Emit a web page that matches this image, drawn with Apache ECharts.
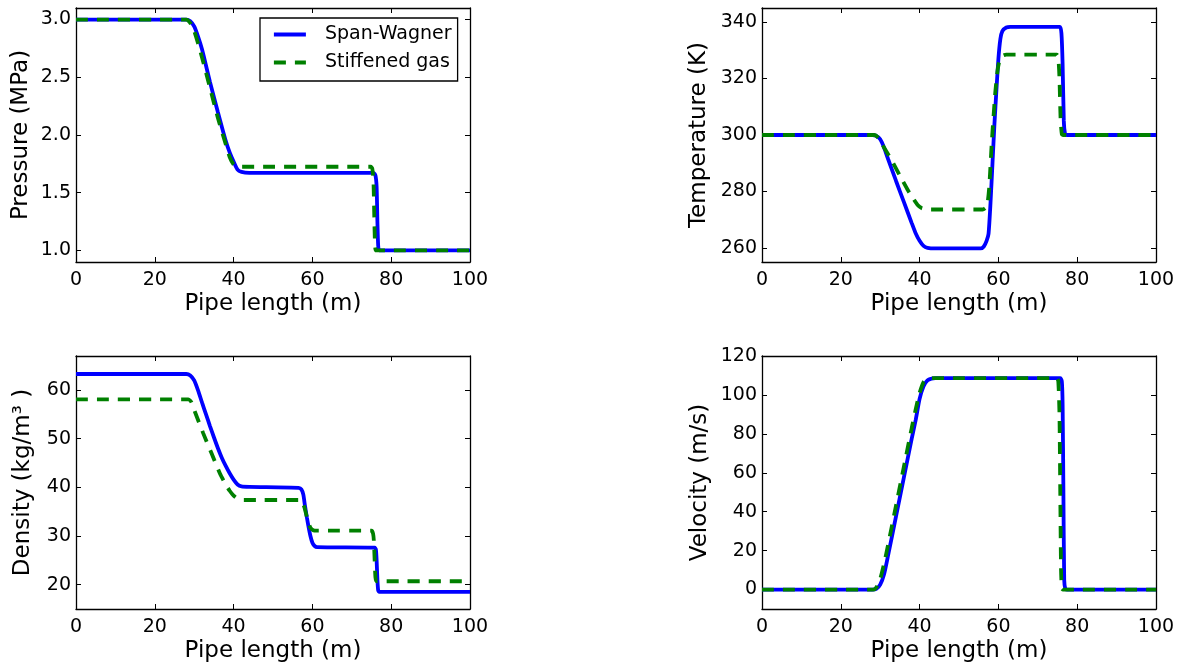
<!DOCTYPE html>
<html>
<head>
<meta charset="utf-8">
<script src="https://cdn.jsdelivr.net/npm/echarts@6/dist/echarts.min.js"></script>
<style>
  html, body { margin: 0; padding: 0; background: #fff; }
  #chart { width: 1183px; height: 671px; }
</style>
</head>
<body>
<div id="chart"></div>
<script>
const seriesNames = ['Span-Wagner', 'Stiffened gas']

const lengthTicks = [0, 20, 40, 60, 80, 100]
const pressureTicks = [1.0, 1.5, 2.0, 2.5, 3.0]
const temperatureTicks = [260, 280, 300, 320, 340]
const densityTicks = [20, 30, 40, 50, 60]
const velocityTicks = [0, 20, 40, 60, 80, 100, 120]

// [pipe length (m), value]
const pressureSW = [[0, 3.0], [28, 3.0], [29, 2.985], [30, 2.94], [31, 2.85], [32, 2.74], [34, 2.46], [36, 2.20], [38, 1.95], [39, 1.85], [40, 1.77], [41, 1.70], [42, 1.68], [44, 1.672], [75.5, 1.672], [76, 1.65], [76.3, 1.55], [76.5, 1.25], [76.7, 1.04], [77, 1.0], [100, 1.0]]
const pressureSG = [[0, 3.0], [28, 3.0], [29, 2.97], [30, 2.90], [31, 2.79], [32, 2.67], [34, 2.41], [36, 2.15], [38, 1.92], [39, 1.81], [40, 1.745], [41, 1.727], [42, 1.725], [74.8, 1.725], [75.2, 1.71], [75.5, 1.6], [75.7, 1.3], [75.9, 1.05], [76.2, 1.0], [100, 1.0]]

const temperatureSW = [[0, 300], [28, 300], [29, 299.7], [30, 298.5], [31, 295.5], [32, 291.5], [34, 283.8], [36, 276.3], [38, 268.8], [39, 265.2], [40, 262.5], [41, 260.7], [42, 260], [44, 259.8], [55.5, 259.8], [56.3, 260.5], [57, 262.5], [57.5, 265], [58, 276], [58.5, 290], [59, 304], [59.5, 316], [60, 327], [60.5, 334], [61, 336.8], [62, 338.1], [63, 338.3], [75.6, 338.3], [76, 336], [76.3, 325], [76.6, 305], [76.9, 300.5], [77.3, 300], [100, 300]]
const temperatureSG = [[0, 300], [28.5, 300], [29.5, 299], [31, 295.5], [33, 290.8], [35, 285.6], [37, 280.5], [38.5, 277.2], [39.5, 275.2], [40.5, 274.1], [42, 273.6], [56, 273.6], [56.8, 274.3], [57.3, 276.5], [57.7, 282], [58.3, 297], [59.2, 315], [59.8, 323], [60.3, 326.5], [61, 328], [62, 328.5], [74.8, 328.5], [75.2, 327.5], [75.5, 320], [75.8, 305], [76.1, 300.3], [76.4, 300], [100, 300]]

const densitySW = [[0, 63.3], [28, 63.3], [29, 63.0], [30, 62.0], [31, 59.9], [32, 57.4], [33, 55.0], [34, 52.6], [35, 50.3], [36, 48.1], [37, 46.1], [38, 44.4], [39, 42.9], [40, 41.6], [41, 40.6], [42, 40.2], [44, 40.1], [56.5, 39.9], [57.2, 39.6], [57.7, 38.5], [58.1, 36.3], [58.6, 33.8], [59, 32], [59.5, 30], [60, 28.6], [60.5, 28], [61.2, 27.7], [75.8, 27.6], [76.1, 27.3], [76.3, 25], [76.5, 21], [76.7, 18.8], [77, 18.5], [100, 18.5]]
const densitySG = [[0, 58.1], [28.5, 58.1], [29.3, 57.5], [30.2, 55.5], [32.3, 51.1], [34.4, 47.0], [36.5, 42.9], [38, 40.6], [39, 39.3], [40, 38.3], [41, 37.7], [42.5, 37.4], [57, 37.4], [57.5, 37.0], [58, 35.8], [58.5, 34.2], [59, 32.7], [59.5, 31.7], [60.2, 31.2], [61, 31.1], [75, 31.1], [75.4, 30.5], [75.6, 29], [75.8, 25], [76.0, 21.5], [76.3, 20.7], [100, 20.7]]

const velocitySW = [[0, 0], [28, 0], [29, 0.3], [30, 2.5], [31, 8], [32, 17.5], [34, 37.5], [36, 57.5], [38, 77.5], [39, 87], [40, 98], [41, 104.5], [42, 107.5], [43, 108.4], [44, 108.6], [75.7, 108.6], [76.1, 107], [76.3, 95], [76.5, 50], [76.7, 5], [77, 0.2], [77.4, 0], [100, 0]]
const velocitySG = [[0, 0], [28.3, 0], [29, 1], [30, 5.5], [31, 13.5], [32, 23], [34, 43], [36, 63], [38, 83], [39, 92.5], [40, 101], [41, 106.5], [42, 108.4], [43, 108.6], [74.8, 108.6], [75.2, 107], [75.5, 90], [75.7, 50], [75.9, 10], [76.1, 0.5], [76.4, 0], [100, 0]]

const FONT = 'DejaVu Sans'

const panels = [
  { grid: { left: 76, top: 8, width: 394, height: 254 }, yName: 'Pressure (MPa)', nameGap: 43, min: 0.9, max: 3.1, ticks: pressureTicks, fmt: v => v.toFixed(1), data: [pressureSW, pressureSG] },
  { grid: { left: 762, top: 8, width: 394, height: 254 }, yName: 'Temperature (K)', nameGap: 51, min: 255, max: 345, ticks: temperatureTicks, fmt: v => String(v), data: [temperatureSW, temperatureSG] },
  { grid: { left: 76, top: 356, width: 394, height: 253 }, yName: 'Density (kg/m³ )', nameGap: 41, min: 15, max: 67, ticks: densityTicks, fmt: v => String(v), data: [densitySW, densitySG] },
  { grid: { left: 762, top: 356, width: 394, height: 253 }, yName: 'Velocity (m/s)', nameGap: 50, min: -10, max: 120, ticks: velocityTicks, fmt: v => String(v), data: [velocitySW, velocitySG] }
]

const frameLine = { show: true, onZero: false, lineStyle: { color: '#000', width: 1.3 } }
const tickStyle = { color: '#000', width: 1 }

const grids = []
const xAxes = []
const yAxes = []
const series = []

panels.forEach((p, i) => {
  grids.push(p.grid)
  // bottom + top x axis (top one only for ticks / frame)
  xAxes.push({
    type: 'value', gridIndex: i, min: 0, max: 100, position: 'bottom',
    axisLine: frameLine,
    axisTick: { show: true, inside: true, length: 5, lineStyle: tickStyle, customValues: lengthTicks },
    axisLabel: { color: '#000', fontFamily: FONT, fontSize: 19, margin: 9, customValues: lengthTicks },
    splitLine: { show: false },
    name: 'Pipe length (m)', nameLocation: 'middle', nameGap: 31,
    nameTextStyle: { color: '#000', fontFamily: FONT, fontSize: 23 }
  })
  xAxes.push({
    type: 'value', gridIndex: i, min: 0, max: 100, position: 'top',
    axisLine: frameLine,
    axisTick: { show: true, inside: true, length: 5, lineStyle: tickStyle, customValues: lengthTicks },
    axisLabel: { show: false },
    splitLine: { show: false }
  })
  yAxes.push({
    type: 'value', gridIndex: i, min: p.min, max: p.max, position: 'left',
    axisLine: frameLine,
    axisTick: { show: true, inside: true, length: 5, lineStyle: tickStyle, customValues: p.ticks },
    axisLabel: { color: '#000', fontFamily: FONT, fontSize: 19, margin: 5, customValues: p.ticks, formatter: p.fmt },
    splitLine: { show: false },
    name: p.yName, nameLocation: 'middle', nameGap: p.nameGap,
    nameTextStyle: { color: '#000', fontFamily: FONT, fontSize: 23 }
  })
  yAxes.push({
    type: 'value', gridIndex: i, min: p.min, max: p.max, position: 'right',
    axisLine: frameLine,
    axisTick: { show: true, inside: true, length: 5, lineStyle: tickStyle, customValues: p.ticks },
    axisLabel: { show: false },
    splitLine: { show: false }
  })

  series.push({
    name: seriesNames[0], type: 'line', xAxisIndex: 2 * i, yAxisIndex: 2 * i,
    data: p.data[0], symbol: 'none', smooth: 0.2,
    lineStyle: { color: '#0000ff', width: 3.8 }, itemStyle: { color: '#0000ff' }
  })
  series.push({
    name: seriesNames[1], type: 'line', xAxisIndex: 2 * i, yAxisIndex: 2 * i,
    data: p.data[1], symbol: 'none', smooth: 0.2,
    lineStyle: { color: '#008000', width: 3.8, type: [12, 9] }, itemStyle: { color: '#008000' }
  })
})

const chart = echarts.init(document.getElementById('chart'))
chart.setOption({
  animation: false,
  backgroundColor: '#fff',
  grid: grids,
  xAxis: xAxes,
  yAxis: yAxes,
  legend: {
    data: seriesNames,
    orient: 'vertical',
    left: 260, top: 18,
    padding: [7, 6, 9, 12],
    itemGap: 9,
    itemWidth: 32, itemHeight: 14,
    borderColor: '#000', borderWidth: 1.3,
    backgroundColor: '#fff',
    itemStyle: { opacity: 0 },
    lineStyle: { width: 3.8 },
    textStyle: { color: '#000', fontFamily: FONT, fontSize: 19, padding: [0, 0, 0, 14] }
  },
  series: series
})
</script>
</body>
</html>
